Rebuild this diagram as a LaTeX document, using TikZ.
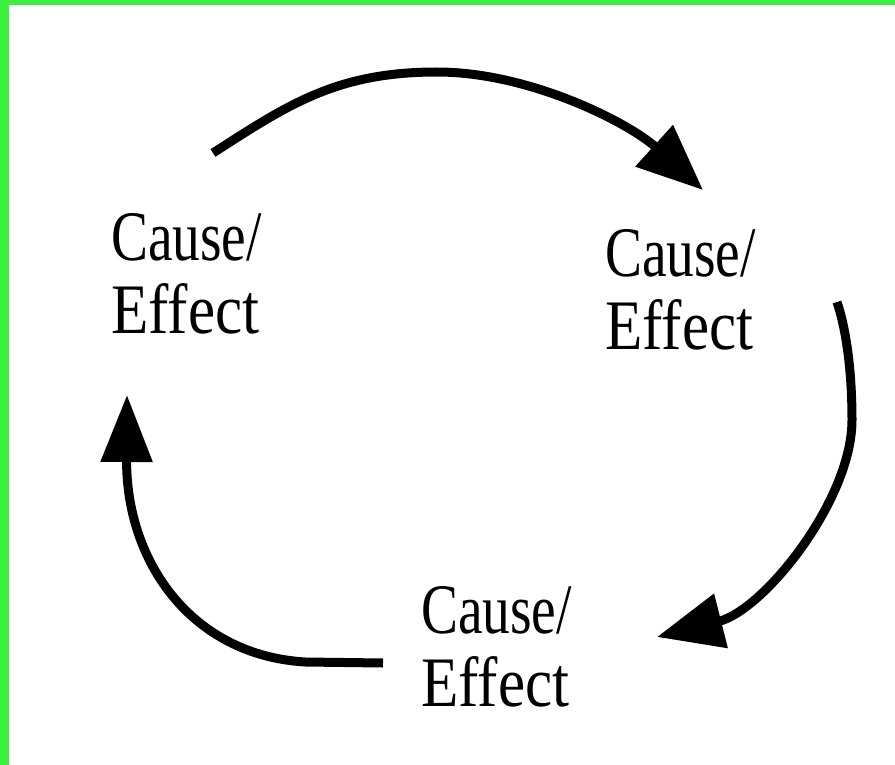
\documentclass[tikz,border=0pt]{standalone}
\usepackage{fontspec}
\usetikzlibrary{arrows.meta}
\newfontfamily\lblfamily[FakeStretch=0.86]{Liberation Serif}
\newfontfamily\lblnarrow[FakeStretch=0.78]{Liberation Serif}
\definecolor{frameGreen}{RGB}{59,240,59}
\newcommand{\ce}{{\lblnarrow Cause/}\\Effect}
\tikzset{
  lbl/.style={font=\lblfamily\fontsize{71}{73}\selectfont, align=left, inner sep=0pt, anchor=north west},
  cyc/.style={line width=9pt, draw=black, -{Triangle[length=66pt,width=54pt]}}
}
\begin{document}
\begin{tikzpicture}[x=1pt,y=-1pt]
\useasboundingbox (0,0) rectangle (895,765);
\fill[white] (0,0) rectangle (895,765);
\fill[frameGreen] (0,0) rectangle (895,5);
\fill[frameGreen] (0,0) rectangle (9,765);

\node[lbl] (tl) at (111,213) {\ce};
\node[lbl] (rt) at (605,229) {\ce};
\node[lbl] (bt) at (421,586) {\ce};

\coordinate (aS) at (213,153);
\coordinate (aP) at (437,72);
\coordinate (aE) at (703,190);
\coordinate (bS) at (837,302);
\coordinate (bP) at (852,420);
\coordinate (bE) at (657,637);
\coordinate (cS) at (383,663);
\coordinate (cP) at (305,662);
\coordinate (cE) at (127,395);

\draw[cyc] (aS) .. controls (289,104) and (337,72) .. (aP)
  .. controls (530,72) and (629,123) .. (aE);
\draw[cyc] (bS) .. controls (848,335) and (852,380) .. (bP)
  .. controls (852,500) and (764,610) .. (bE);
\draw[cyc, -{Triangle[length=67pt,width=50pt]}] (cS) -- (cP)
  .. controls (190,655) and (126,560) .. (cE);
\end{tikzpicture}
\end{document}
